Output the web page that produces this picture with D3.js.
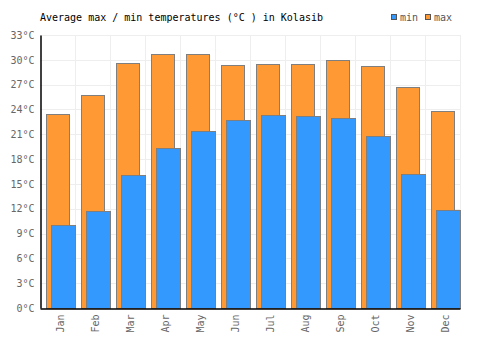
<!DOCTYPE html>
<html>
<head>
<meta charset="utf-8">
<script src="https://cdn.jsdelivr.net/npm/d3@7"></script>
<style>
    body { margin: 0; background: #fff; }
    text { font-family: "DejaVu Sans Mono", monospace; }
</style>
</head>
<body>
<div id="chart"></div>
<script>

// data
let months = ["Jan", "Feb", "Mar", "Apr", "May", "Jun", "Jul", "Aug", "Sep", "Oct", "Nov", "Dec"];
let maxTemps = [23.4, 25.7, 29.6, 30.7, 30.7, 29.4, 29.5, 29.5, 30.0, 29.3, 26.7, 23.8];
let minTemps = [10.0, 11.7, 16.1, 19.3, 21.4, 22.7, 23.3, 23.2, 23.0, 20.8, 16.2, 11.8];
let yTicks = [0, 3, 6, 9, 12, 15, 18, 21, 24, 27, 30, 33];

let width = 500, height = 350;
let margin = {top: 35, right: 40, bottom: 42, left: 40};

let svg = d3.select("#chart").append("svg")
    .attr("width", width)
    .attr("height", height);

let x = d3.scaleBand()
    .domain(months)
    .range([margin.left, width - margin.right]);

let y = d3.scaleLinear()
    .domain([0, 33])
    .range([height - margin.bottom, margin.top]);

let bw = x.bandwidth();

// grid
svg.append("g").selectAll("line.h")
    .data(yTicks)
    .enter().append("line")
    .attr("x1", margin.left)
    .attr("x2", width - margin.right)
    .attr("y1", d => Math.round(y(d)) + 0.5)
    .attr("y2", d => Math.round(y(d)) + 0.5)
    .attr("stroke", "#eeeeee")
    .attr("stroke-width", 1);

svg.append("g").selectAll("line.v")
    .data(months)
    .enter().append("line")
    .attr("x1", d => Math.round(x(d) + bw) + 0.5)
    .attr("x2", d => Math.round(x(d) + bw) + 0.5)
    .attr("y1", margin.top)
    .attr("y2", height - margin.bottom)
    .attr("stroke", "#eeeeee")
    .attr("stroke-width", 1);

// max bars (behind)
svg.append("g").selectAll("rect")
    .data(months)
    .enter().append("rect")
    .attr("x", d => Math.round(x(d) + bw * 0.18) + 0.5)
    .attr("width", Math.round(bw * 0.66))
    .attr("y", (d, i) => Math.round(y(maxTemps[i])) + 0.5)
    .attr("height", (d, i) => y(0) - Math.round(y(maxTemps[i])))
    .attr("fill", "#ff9933")
    .attr("stroke", "#7f7f7f")
    .attr("stroke-width", 1);

// min bars (front)
svg.append("g").selectAll("rect")
    .data(months)
    .enter().append("rect")
    .attr("x", d => Math.round(x(d) + bw * 0.325) + 0.5)
    .attr("width", Math.round(bw * 0.69))
    .attr("y", (d, i) => Math.round(y(minTemps[i])) + 0.5)
    .attr("height", (d, i) => y(0) - Math.round(y(minTemps[i])))
    .attr("fill", "#3399ff")
    .attr("stroke", "#7f7f7f")
    .attr("stroke-width", 1);

// axes
let yAxis = d3.axisLeft(y).tickValues(yTicks).tickSize(0).tickPadding(6).tickFormat(d => d + "°C");
let gy = svg.append("g")
    .attr("transform", `translate(${margin.left + 0.5},0)`)
    .call(yAxis);
gy.select(".domain").attr("stroke", "#000").attr("stroke-width", 1.5);
gy.selectAll("text").attr("fill", "#666").style("font-size", "10px");

let xAxis = d3.axisBottom(x).tickSize(0).tickPadding(0);
let gx = svg.append("g")
    .attr("transform", `translate(0,${height - margin.bottom + 0.5})`)
    .call(xAxis);
gx.select(".domain").attr("stroke", "#000").attr("stroke-width", 1.5);
gx.selectAll("text")
    .attr("fill", "#666")
    .style("font-size", "10px")
    .attr("text-anchor", "end")
    .attr("transform", "translate(3,6) rotate(-90)")
    .attr("x", 0)
    .attr("y", 0)
    .attr("dy", "0.35em");

// title
svg.append("text")
    .attr("x", margin.left)
    .attr("y", 21)
    .attr("fill", "#000")
    .style("font-size", "10px")
    .text("Average max / min temperatures (°C ) in Kolasib");

// legend
let legend = svg.append("g").attr("class", "legend");
let legendItems = [{name: "min", color: "#3399ff", x: 391}, {name: "max", color: "#ff9933", x: 425}];
legendItems.forEach(item => {
    legend.append("rect")
        .attr("x", item.x + 0.5)
        .attr("y", 14.5)
        .attr("width", 5)
        .attr("height", 5)
        .attr("fill", item.color)
        .attr("stroke", "#555")
        .attr("stroke-width", 1);
    legend.append("text")
        .attr("x", item.x + 9)
        .attr("y", 21)
        .attr("fill", "#555")
        .style("font-size", "10px")
        .text(item.name);
});

</script>
</body>
</html>
